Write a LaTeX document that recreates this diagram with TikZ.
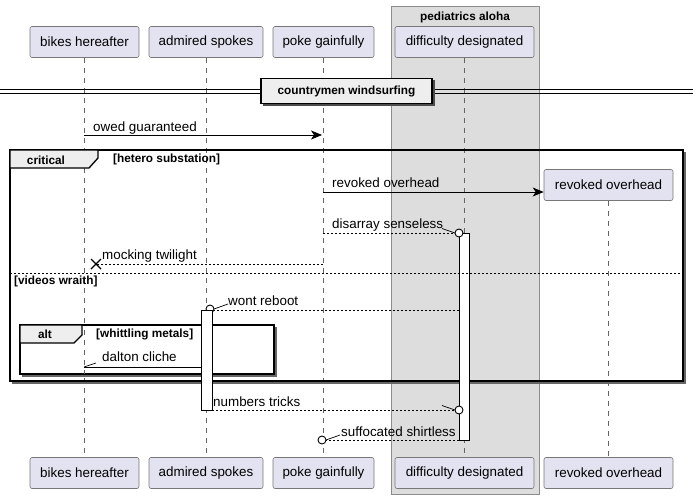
\documentclass[tikz,border=0pt]{standalone}
\usepackage{fontspec}
\setmainfont{Liberation Sans}
\usetikzlibrary{arrows.meta}
\definecolor{partfill}{RGB}{226,226,240}
\definecolor{partdraw}{RGB}{120,120,120}
\definecolor{grpfill}{RGB}{221,221,221}
\definecolor{grpdraw}{RGB}{140,140,140}
\definecolor{tabfill}{RGB}{238,238,238}
\definecolor{lifegray}{RGB}{100,100,100}
\begin{document}
\begin{tikzpicture}[x=1pt,y=-1pt,
  font=\fontsize{13.4}{15}\selectfont,
  part/.style={draw=partdraw, fill=partfill, rounded corners=2pt, minimum height=31pt, inner sep=0pt, line width=0.6pt},
  lifeline/.style={draw=lifegray, dash pattern=on 5pt off 5pt, line width=0.5pt},
  msg/.style={draw=black, line width=0.8pt},
  ret/.style={draw=black, line width=0.7pt, dash pattern=on 2pt off 2pt},
  full/.style={-{Stealth[length=11pt,width=9pt,inset=3pt]}},
  mlabel/.style={anchor=base west, inner sep=0pt},
  flabel/.style={font=\fontsize{11.8}{13}\selectfont\bfseries, inner sep=0pt},
  frame/.style={draw=black, line width=1.3pt},
  actbox/.style={draw=black, fill=white, line width=0.8pt},
  endcirc/.style={draw=black, line width=0.9pt, fill=white},
]
\useasboundingbox (0,0) rectangle (699,499);

% group box
\node[draw=grpdraw, fill=grpfill, line width=0.6pt, minimum width=148pt, minimum height=488pt, inner sep=0pt] (grp) at (465,250) {};
\node[flabel, anchor=base] (grpt) at (465,20) {pediatrics aloha};

% participants top
\node[part, minimum width=109pt] (p1) at (84.5,42) {bikes hereafter};
\node[part, minimum width=114pt] (p2) at (206,42) {admired spokes};
\node[part, minimum width=101pt] (p3) at (323.5,42) {poke gainfully};
\node[part, minimum width=139pt] (p4) at (464.5,42) {difficulty designated};
% participants bottom
\node[part, minimum width=109pt] (q1) at (84.5,473) {bikes hereafter};
\node[part, minimum width=114pt] (q2) at (206,473) {admired spokes};
\node[part, minimum width=101pt] (q3) at (323.5,473) {poke gainfully};
\node[part, minimum width=139pt] (q4) at (464.5,473) {difficulty designated};
\node[part, minimum width=129pt] (q5) at (608.5,473) {revoked overhead};
% created participant
\node[part, minimum width=129pt] (p5) at (608.5,185) {revoked overhead};

% lifelines
\draw[lifeline] (p1.south) -- (q1.north);
\draw[lifeline] (p2.south) -- (q2.north);
\draw[lifeline] (p3.south) -- (q3.north);
\draw[lifeline] (p4.south) -- (q4.north);
\draw[lifeline] (p5.south) -- (q5.north);

% divider
\coordinate (dl) at (0,91);
\coordinate (dr) at (693,91);
\draw[line width=0.8pt] ([yshift=-2pt]dl) -- ([yshift=-2pt]dr);
\draw[line width=0.8pt] ([yshift=2pt]dl) -- ([yshift=2pt]dr);
\fill[black!70] (263,80) rectangle (435,106);
\node[draw=black, fill=tabfill, line width=1.2pt, minimum width=171pt, minimum height=25pt, inner sep=0pt, font=\fontsize{11.8}{13}\selectfont\bfseries] (div) at (346.5,91) {countrymen windsurfing};

% message 1
\coordinate (m1a) at (84,135);
\coordinate (m1b) at (322,135);
\draw[msg, full] (m1a) -- (m1b);
\node[mlabel] (l1) at (93,131) {owed guaranteed};

% critical frame
\coordinate (cf1) at (10,150);
\coordinate (cf2) at (683,381);
\draw[black!60, line width=1.5pt] (12,383) -- (685,383) -- (685,152);
\draw[frame] (cf1) rectangle (cf2);
\draw[frame, fill=tabfill] (10,150) -- (98,150) -- (98,158) -- (89,168) -- (10,168) -- cycle;
\node[flabel] (crit) at (46,160) {critical};
\node[flabel, anchor=west] (critc) at (113,159.5) {[hetero substation]};

% message 2 (create)
\coordinate (m2a) at (323,192);
\draw[msg, full] (m2a) -- (p5.west |- m2a);
\node[mlabel] (l2) at (332,187) {revoked overhead};

% activation on p4
\node[actbox, minimum width=10pt, minimum height=207pt, inner sep=0pt] (act4) at (464,336.5) {};

% message 3
\coordinate (m3a) at (323,233);
\coordinate (m3b) at (459,233);
\draw[ret] (m3a) -- ([xshift=-4pt]m3b);
\draw[line width=0.7pt] ([xshift=-17pt,yshift=4.5pt]m3b) -- ([xshift=-4pt]m3b);
\draw[endcirc] (m3b) circle (4pt);
\node[mlabel] (l3) at (332,228) {disarray senseless};

% message 4 (destroy-like)
\coordinate (m4a) at (323,264);
\coordinate (m4b) at (96,264);
\draw[ret] (m4a) -- (m4b);
\draw[line width=1.4pt] ([xshift=-5pt,yshift=-5pt]m4b) -- ([xshift=5pt,yshift=5pt]m4b);
\draw[line width=1.4pt] ([xshift=-5pt,yshift=5pt]m4b) -- ([xshift=5pt,yshift=-5pt]m4b);
\node[mlabel] (l4) at (102,259) {mocking twilight};

% else separator
\coordinate (s1) at (10,273);
\coordinate (s2) at (683,273);
\draw[line width=0.7pt, dash pattern=on 2pt off 2pt] (s1) -- (s2);
\node[flabel, anchor=west] (els) at (14,281) {[videos wraith]};

% activation on p2
\node[actbox, minimum width=11pt, minimum height=100pt, inner sep=0pt] (act2) at (206.5,360) {};

% message 5
\coordinate (m5a) at (459,310);
\coordinate (m5b) at (210,309);
\draw[ret] (m5a) -- ([xshift=4pt]m5b |- m5a);
\draw[line width=0.7pt] ([xshift=4pt]m5b) -- ([xshift=18pt,yshift=5pt]m5b);
\draw[endcirc] (m5b) circle (4pt);
\node[mlabel] (l5) at (228,305) {wont reboot};

% alt frame
\coordinate (af1) at (20,325);
\coordinate (af2) at (274,374);
\draw[black!60, line width=1.5pt] (22,376) -- (276,376) -- (276,327);
\draw[frame, fill=white] (af1) rectangle (af2);
\draw[frame, fill=tabfill] (20,325) -- (82,325) -- (82,335) -- (74,343) -- (20,343) -- cycle;
\node[flabel] (alt) at (45,334) {alt};
\node[flabel, anchor=west] (altc) at (96,334) {[whittling metals]};
% redraw lifelines inside alt frame
\draw[lifeline] (84,330) -- (84,374);
\draw[lifeline] (206,343) -- (206,374);
\node[actbox, minimum width=11pt, minimum height=100pt, inner sep=0pt] (act2b) at (206.5,360) {};

% message 6
\coordinate (m6a) at (201,367);
\coordinate (m6b) at (84,367);
\draw[msg] (m6a) -- (m6b);
\draw[line width=0.7pt] (m6b) -- ([xshift=12pt,yshift=4pt]m6b);
\node[mlabel] (l6) at (102,361) {dalton cliche};

% message 7
\coordinate (m7a) at (212,410);
\coordinate (m7b) at (459,410);
\draw[ret] (m7a) -- ([xshift=-4pt]m7b);
\draw[line width=0.7pt] ([xshift=-17pt,yshift=4.5pt]m7b) -- ([xshift=-4pt]m7b);
\draw[endcirc] (m7b) circle (4pt);
\node[mlabel] (l7) at (213,406) {numbers tricks};

% message 8
\coordinate (m8a) at (459,440);
\coordinate (m8b) at (322,440);
\draw[ret] (m8a) -- ([xshift=4pt]m8b);
\draw[line width=0.7pt] ([xshift=4pt]m8b) -- ([xshift=18pt,yshift=5pt]m8b);
\draw[endcirc] (m8b) circle (4pt);
\node[mlabel] (l8) at (341,436) {suffocated shirtless};
\end{tikzpicture}
\end{document}
